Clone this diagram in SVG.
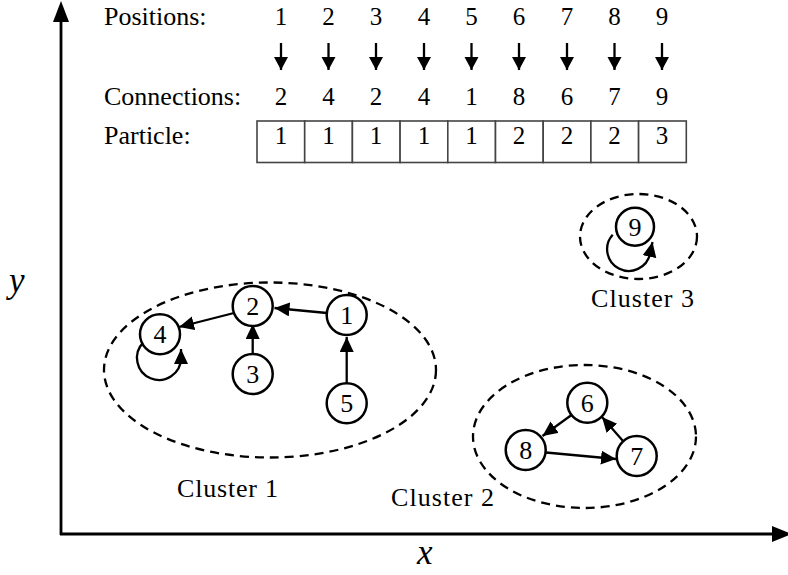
<svg xmlns="http://www.w3.org/2000/svg" width="788" height="575" viewBox="0 0 788 575">
<style>
text{font-family:"Liberation Serif","Times New Roman",serif;fill:#000}
.lbl{font-size:26px}
.num{font-size:25px;text-anchor:middle}
.node circle{fill:#fff;stroke:#000;stroke-width:2.5}
.node text{font-size:26px;text-anchor:middle}
.edge{fill:none;stroke:#000;stroke-width:2.3}
.cluster{fill:none;stroke:#000;stroke-width:2.3;stroke-dasharray:9 6}
.cell{fill:#fff;stroke:#444;stroke-width:1.6}
.ax{fill:none;stroke:#000;stroke-width:2.8}
.it{font-style:italic;font-size:35px}
</style>
<defs>
<marker id="ah" markerUnits="userSpaceOnUse" markerWidth="18" markerHeight="16" refX="15" refY="7" orient="auto">
<path d="M0,0 L15,7 L0,14 Z" fill="#000"/>
</marker>
<marker id="dn" markerUnits="userSpaceOnUse" markerWidth="16" markerHeight="16" refX="13" refY="7" orient="auto">
<path d="M0,0 L13,7 L0,14 Z" fill="#000"/>
</marker>
</defs>

<g id="axes">
<line class="ax" x1="61" y1="535" x2="61" y2="18"/>
<polygon points="61,1 53,22 69,22" fill="#000"/>
<line class="ax" x1="60" y1="534" x2="774" y2="534"/>
<polygon points="792,534 772,526 772,542" fill="#000"/>
<text class="it" x="9" y="292">y</text>
<text class="it" x="417" y="564">x</text>
</g>

<g id="header">
<text class="lbl" x="104" y="25">Positions:</text>
<text class="lbl" x="104" y="105">Connections:</text>
<text class="lbl" x="104" y="144">Particle:</text>
<g class="num">
<text x="281" y="25">1</text><text x="328.5" y="25">2</text><text x="376" y="25">3</text><text x="424" y="25">4</text><text x="471.5" y="25">5</text><text x="519" y="25">6</text><text x="567" y="25">7</text><text x="614.5" y="25">8</text><text x="662" y="25">9</text>
<text x="281" y="105">2</text><text x="328.5" y="105">4</text><text x="376" y="105">2</text><text x="424" y="105">4</text><text x="471.5" y="105">1</text><text x="519" y="105">8</text><text x="567" y="105">6</text><text x="614.5" y="105">7</text><text x="662" y="105">9</text>
</g>
<g class="edge" marker-end="url(#dn)">
<line x1="281" y1="43" x2="281" y2="70"/>
<line x1="328.5" y1="43" x2="328.5" y2="70"/>
<line x1="376" y1="43" x2="376" y2="70"/>
<line x1="424" y1="43" x2="424" y2="70"/>
<line x1="471.5" y1="43" x2="471.5" y2="70"/>
<line x1="519" y1="43" x2="519" y2="70"/>
<line x1="567" y1="43" x2="567" y2="70"/>
<line x1="614.5" y1="43" x2="614.5" y2="70"/>
<line x1="662" y1="43" x2="662" y2="70"/>
</g>
<g id="particle">
<rect class="cell" x="257" y="121" width="47.7" height="41.5"/>
<rect class="cell" x="304.7" y="121" width="47.7" height="41.5"/>
<rect class="cell" x="352.4" y="121" width="47.7" height="41.5"/>
<rect class="cell" x="400.1" y="121" width="47.7" height="41.5"/>
<rect class="cell" x="447.8" y="121" width="47.7" height="41.5"/>
<rect class="cell" x="495.5" y="121" width="47.7" height="41.5"/>
<rect class="cell" x="543.2" y="121" width="47.7" height="41.5"/>
<rect class="cell" x="590.9" y="121" width="47.7" height="41.5"/>
<rect class="cell" x="638.6" y="121" width="47.7" height="41.5"/>
<g class="num">
<text x="281" y="144">1</text><text x="328.5" y="144">1</text><text x="376" y="144">1</text><text x="424" y="144">1</text><text x="471.5" y="144">1</text><text x="519" y="144">2</text><text x="567" y="144">2</text><text x="614.5" y="144">2</text><text x="662" y="144">3</text>
</g>
</g>
</g>

<g id="clusters">
<ellipse class="cluster" cx="270" cy="370" rx="166" ry="87.5"/>
<ellipse class="cluster" cx="584.5" cy="436.5" rx="111.5" ry="71.5"/>
<ellipse class="cluster" cx="638.5" cy="236.5" rx="58.5" ry="42.5"/>
<text class="lbl" x="177" y="497" textLength="101" lengthAdjust="spacing">Cluster 1</text>
<text class="lbl" x="391" y="506" textLength="103" lengthAdjust="spacing">Cluster 2</text>
<text class="lbl" x="591" y="307" textLength="103" lengthAdjust="spacing">Cluster 3</text>
</g>

<g id="connectors" class="edge" marker-end="url(#ah)">
<line x1="327" y1="313" x2="274.5" y2="308"/>
<line x1="234" y1="313" x2="179" y2="327"/>
<line x1="252.7" y1="354" x2="252.7" y2="324"/>
<line x1="346.7" y1="383" x2="346.7" y2="337"/>
<path d="M143.4,342.4 A22,22 0 1 0 181,358 L181,349"/>
<path d="M612.7,234.7 A21.7,21.7 0 1 0 650,254 L652.5,242"/>
<line x1="571.5" y1="415" x2="542.5" y2="436"/>
<line x1="546" y1="452.5" x2="616" y2="459"/>
<line x1="623" y1="441" x2="602" y2="417"/>
</g>

<g id="n1" class="node"><circle cx="346.7" cy="315" r="20"/><text x="346.7" y="324">1</text></g>
<g id="n2" class="node"><circle cx="252.7" cy="306" r="20"/><text x="252.7" y="315">2</text></g>
<g id="n3" class="node"><circle cx="252.7" cy="374" r="20"/><text x="252.7" y="383">3</text></g>
<g id="n4" class="node"><circle cx="160" cy="334.3" r="20"/><text x="160" y="343.3">4</text></g>
<g id="n5" class="node"><circle cx="346.7" cy="403.3" r="20"/><text x="346.7" y="412.3">5</text></g>
<g id="n6" class="node"><circle cx="587.3" cy="402.7" r="20"/><text x="587.3" y="411.7">6</text></g>
<g id="n7" class="node"><circle cx="636.7" cy="456" r="20"/><text x="636.7" y="465">7</text></g>
<g id="n8" class="node"><circle cx="525.7" cy="450" r="20"/><text x="525.7" y="459">8</text></g>
<g id="n9" class="node"><circle cx="635" cy="226.7" r="19"/><text x="635" y="235.7">9</text></g>
</svg>
